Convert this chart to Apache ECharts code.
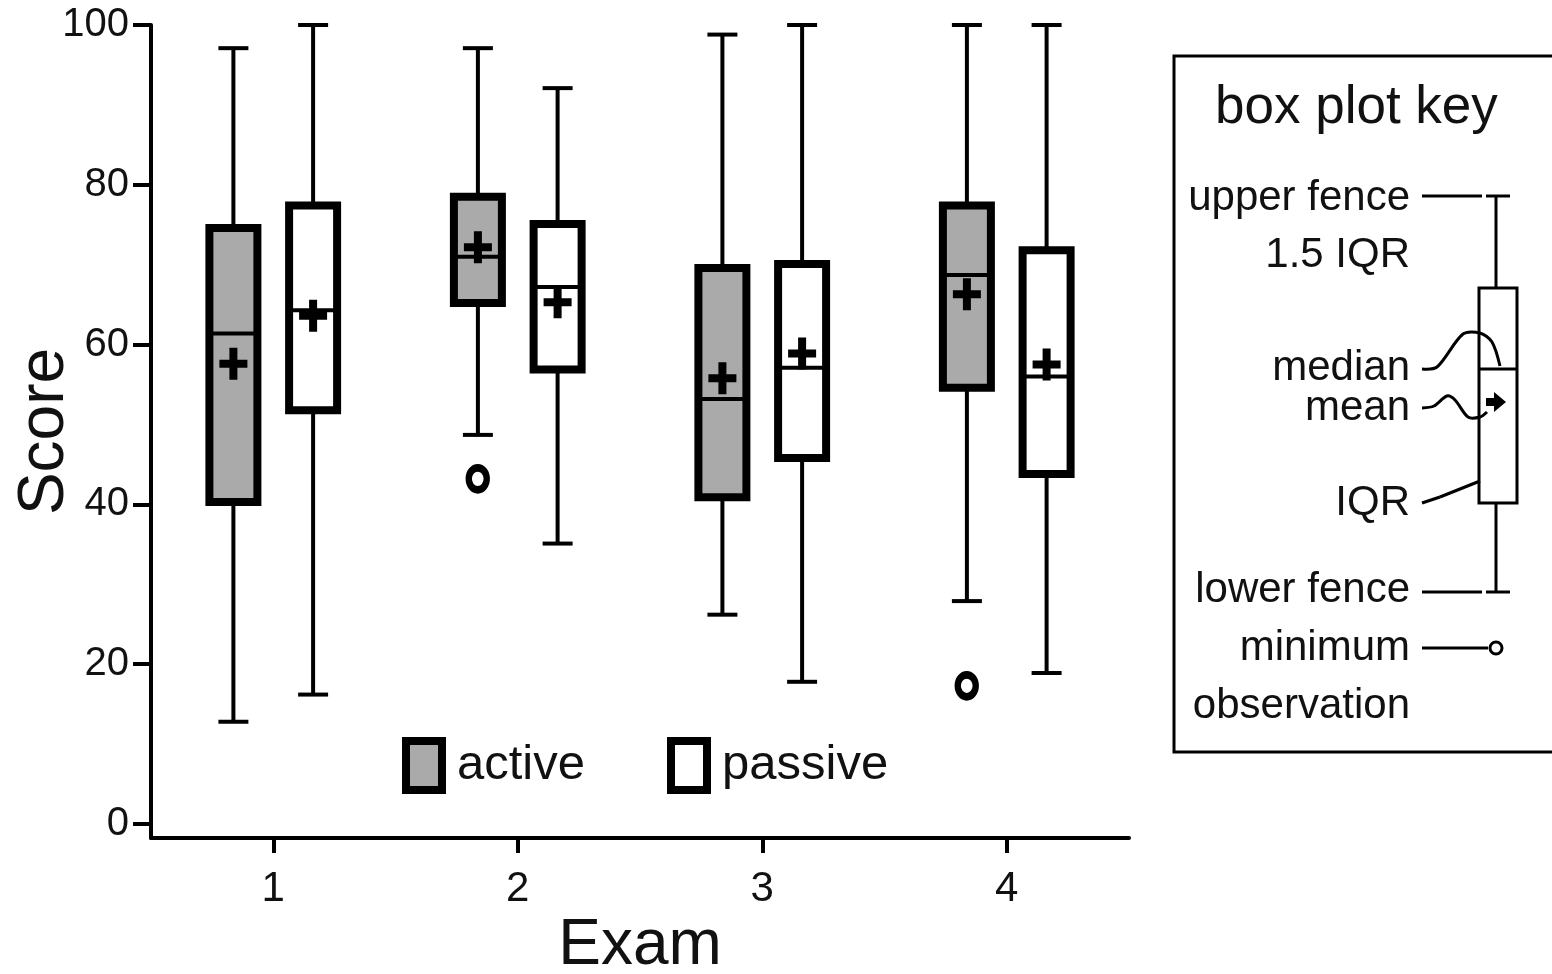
<!DOCTYPE html>
<html>
<head>
<meta charset="utf-8">
<title>Exam scores: active vs passive</title>
<script src="https://cdn.jsdelivr.net/npm/echarts@6/dist/echarts.min.js"></script>
<style>
  html, body { margin: 0; padding: 0; background: #fff; }
  #main { width: 1552px; height: 974px; }
</style>
</head>
<body>
<div id="main"></div>
<script>
  // categories and ticks
  const exams = ['1', '2', '3', '4'];
  const scoreTicks = [0, 20, 40, 60, 80, 100];

  // [lower fence, Q1, median, Q3, upper fence] for each exam
  const activeBoxes = [
    [12.8, 40.3, 61.4, 74.6, 97.1],
    [48.7, 65.2, 71.0, 78.5, 97.1],
    [26.2, 40.9, 53.2, 69.6, 98.8],
    [27.9, 54.6, 68.7, 77.4, 100]
  ];
  const passiveBoxes = [
    [16.2, 51.8, 64.3, 77.4, 100],
    [35.1, 56.9, 67.2, 75.1, 92.1],
    [17.8, 45.8, 57.1, 70.1, 100],
    [18.9, 43.8, 56.0, 71.8, 100]
  ];
  const activeMeans = [57.6, 72.2, 55.8, 66.3];
  const passiveMeans = [63.6, 65.3, 58.9, 57.5];
  // minimum observations below the lower fence
  const activeOutliers = [['2', 43.2], ['4', 17.3]];

  const FONT = "'Liberation Sans', Arial, sans-serif";
  const INK = '#111';

  function toRows(boxes, means) {
    return boxes.map(function (b, i) {
      return [i].concat(b, [means[i]]);
    });
  }

  // draws one box with thick border, thin whiskers and a "+" for the mean
  function boxRenderer(shift, fill) {
    return function (params, api) {
      const band = api.size([1, 0])[0];
      const cx = api.coord([api.value(0), 0])[0] + band * shift;
      const y = function (v) { return api.coord([api.value(0), v])[1]; };
      const lo = y(api.value(1)), q1 = y(api.value(2)), med = y(api.value(3));
      const q3 = y(api.value(4)), hi = y(api.value(5)), mean = y(api.value(6));
      const half = 24, cap = 15;
      const thin = { stroke: '#000', lineWidth: 4 };
      const line = function (x1, y1, x2, y2) {
        return { type: 'line', shape: { x1: x1, y1: y1, x2: x2, y2: y2 }, style: thin };
      };
      const p = [
        [-4, -16], [4, -16], [4, -4], [14, -4], [14, 4], [4, 4],
        [4, 16], [-4, 16], [-4, 4], [-14, 4], [-14, -4], [-4, -4]
      ].map(function (d) { return [cx + d[0], mean + d[1]]; });
      return {
        type: 'group',
        children: [
          line(cx, hi, cx, q3),
          line(cx, q1, cx, lo),
          line(cx - cap, hi, cx + cap, hi),
          line(cx - cap, lo, cx + cap, lo),
          {
            type: 'rect',
            shape: { x: cx - half, y: q3, width: half * 2, height: q1 - q3 },
            style: { fill: fill, stroke: '#000', lineWidth: 8 }
          },
          line(cx - half, med, cx + half, med),
          { type: 'polygon', shape: { points: p }, style: { fill: '#000' } }
        ]
      };
    };
  }

  function txt(s, x, y, size, align) {
    return {
      type: 'text', x: x, y: y,
      style: { text: s, fontSize: size, fontFamily: FONT, fill: INK, align: align || 'right', verticalAlign: 'middle' }
    };
  }
  function seg(x1, y1, x2, y2, w) {
    return { type: 'line', shape: { x1: x1, y1: y1, x2: x2, y2: y2 }, style: { stroke: '#000', lineWidth: w || 3 } };
  }
  function curve(points) {
    return { type: 'polyline', shape: { points: points, smooth: 0.3 }, style: { stroke: '#000', lineWidth: 3, fill: null } };
  }

  const myChart = echarts.init(document.getElementById('main'));
  const option = {
    animation: false,
    backgroundColor: '#fff',
    grid: { left: 151, top: 25, right: 423, bottom: 136, containLabel: false, outerBoundsMode: 'none' },
    legend: {
      left: 402, top: 737, padding: 0,
      itemWidth: 36, itemHeight: 49, itemGap: 82,
      textStyle: { fontSize: 49, fontFamily: FONT, color: INK, padding: [0, 0, 14, 10] },
      data: [
        { name: 'active', icon: 'rect', itemStyle: { color: '#aaaaaa', borderColor: '#000', borderWidth: 8 } },
        { name: 'passive', icon: 'rect', itemStyle: { color: '#ffffff', borderColor: '#000', borderWidth: 8 } }
      ],
      selectedMode: false
    },
    xAxis: {
      type: 'category',
      data: exams,
      name: 'Exam',
      nameLocation: 'middle',
      nameGap: 76,
      nameMoveOverlap: false,
      nameTextStyle: { fontSize: 64, fontFamily: FONT, color: INK },
      axisLine: { onZero: false, lineStyle: { color: '#000', width: 4 } },
      axisTick: { show: true, interval: 0, alignWithLabel: true, length: 15, lineStyle: { color: '#000', width: 4 } },
      axisLabel: { fontSize: 42, fontFamily: FONT, color: INK, margin: 30 },
      splitLine: { show: false }
    },
    yAxis: {
      type: 'value',
      min: -1.75,
      max: 100,
      name: 'Score',
      nameLocation: 'middle',
      nameGap: 74,
      nameMoveOverlap: false,
      nameTextStyle: { fontSize: 64, fontFamily: FONT, color: INK },
      axisLine: { show: true, lineStyle: { color: '#000', width: 4 } },
      axisTick: { show: true, length: 18, customValues: scoreTicks, lineStyle: { color: '#000', width: 4 } },
      axisLabel: { fontSize: 40, fontFamily: FONT, color: INK, margin: 22, customValues: scoreTicks },
      splitLine: { show: false }
    },
    series: [
      {
        name: 'active',
        type: 'custom',
        renderItem: boxRenderer(-0.163, '#aaaaaa'),
        encode: { x: 0, y: [1, 2, 3, 4, 5, 6] },
        data: toRows(activeBoxes, activeMeans)
      },
      {
        name: 'passive',
        type: 'custom',
        renderItem: boxRenderer(0.163, '#ffffff'),
        encode: { x: 0, y: [1, 2, 3, 4, 5, 6] },
        data: toRows(passiveBoxes, passiveMeans)
      },
      {
        name: 'active outliers',
        type: 'scatter',
        data: activeOutliers,
        symbol: 'circle',
        symbolSize: [18, 22],
        symbolOffset: [-40, 0],
        itemStyle: { color: '#fff', borderColor: '#000', borderWidth: 7, opacity: 1 }
      }
    ],
    graphic: [
      // box plot key panel
      { type: 'rect', shape: { x: 1174, y: 56, width: 420, height: 696 }, style: { fill: 'none', stroke: '#000', lineWidth: 3 } },
      txt('box plot key', 1215, 108, 53, 'left'),
      txt('upper fence', 1410, 198, 42),
      txt('1.5 IQR', 1410, 255, 42),
      txt('median', 1410, 368, 42),
      txt('mean', 1410, 408, 42),
      txt('IQR', 1410, 503, 42),
      txt('lower fence', 1410, 590, 42),
      txt('minimum', 1410, 648, 42),
      txt('observation', 1410, 706, 42),
      seg(1422, 196, 1482, 196),
      seg(1486, 196, 1510, 196),
      seg(1496, 196, 1496, 288),
      { type: 'rect', shape: { x: 1479, y: 288, width: 38, height: 215 }, style: { fill: '#fff', stroke: '#000', lineWidth: 3 } },
      seg(1479, 369, 1517, 369),
      seg(1496, 503, 1496, 592),
      seg(1422, 592, 1482, 592),
      seg(1486, 592, 1510, 592),
      seg(1422, 648, 1488, 648),
      { type: 'circle', shape: { cx: 1496, cy: 648, r: 6 }, style: { fill: '#fff', stroke: '#000', lineWidth: 3 } },
      curve([[1422, 369], [1437, 367], [1463, 334], [1480, 333], [1492, 342], [1500, 366]]),
      curve([[1422, 408], [1434, 406], [1447, 396], [1455, 400], [1468, 417], [1480, 417], [1487, 412]]),
      { type: 'polygon', shape: { points: [[1486, 398], [1494, 398], [1494, 392], [1506, 402], [1494, 412], [1494, 406], [1486, 406]] }, style: { fill: '#000' } },
      seg(1422, 503, 1440, 497),
      seg(1440, 497, 1480, 481)
    ]
  };
  myChart.setOption(option);
</script>
</body>
</html>
